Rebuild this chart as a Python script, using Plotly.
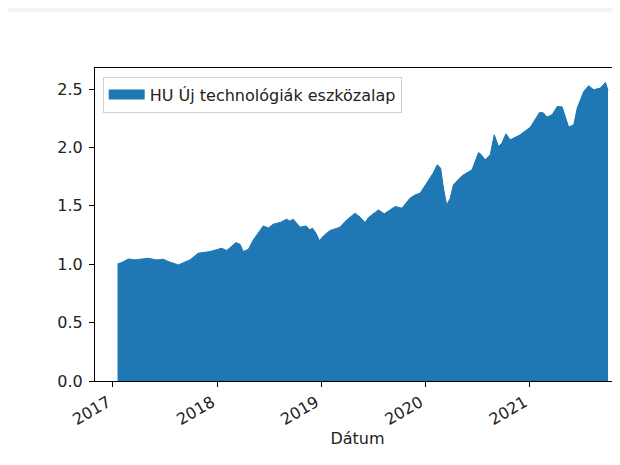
import plotly.graph_objects as go

series_name = "HU Új technológiák eszközalap"
dates = [
    "2017-01-17", "2017-02-01", "2017-02-24", "2017-03-19", "2017-05-05", "2017-06-03",
    "2017-06-27", "2017-07-14", "2017-08-18", "2017-09-28", "2017-10-27", "2017-12-07",
    "2018-01-17", "2018-02-04", "2018-03-08", "2018-03-23", "2018-04-03", "2018-04-21",
    "2018-05-08", "2018-06-12", "2018-06-30", "2018-07-17", "2018-08-10", "2018-09-02",
    "2018-09-13", "2018-09-25", "2018-10-19", "2018-11-09", "2018-11-23", "2018-12-01",
    "2018-12-14", "2018-12-26", "2019-01-09", "2019-02-01", "2019-03-08", "2019-04-01",
    "2019-04-30", "2019-05-18", "2019-06-04", "2019-06-16", "2019-07-21", "2019-08-10",
    "2019-09-18", "2019-10-11", "2019-11-09", "2019-11-27", "2019-12-14", "2020-01-12",
    "2020-01-29", "2020-02-12", "2020-02-24", "2020-03-05", "2020-03-16", "2020-03-28",
    "2020-04-09", "2020-05-09", "2020-06-13", "2020-07-06", "2020-07-15", "2020-07-29",
    "2020-08-16", "2020-08-30", "2020-09-14", "2020-09-26", "2020-10-10", "2020-10-25",
    "2020-11-29", "2021-01-04", "2021-02-05", "2021-02-18", "2021-03-03", "2021-03-21",
    "2021-04-08", "2021-04-25", "2021-05-07", "2021-05-18", "2021-06-05", "2021-06-17",
    "2021-07-10", "2021-07-27", "2021-08-14", "2021-09-06", "2021-09-24", "2021-10-03",
]
values = [
    1.003, 1.014, 1.045, 1.037, 1.051, 1.037,
    1.043, 1.023, 0.994, 1.037, 1.094, 1.108,
    1.137, 1.117, 1.185, 1.170, 1.108, 1.128,
    1.208, 1.328, 1.310, 1.343, 1.357, 1.385,
    1.370, 1.385, 1.317, 1.328, 1.294, 1.310,
    1.265, 1.202, 1.242, 1.288, 1.317, 1.380,
    1.437, 1.402, 1.357, 1.400, 1.465, 1.431,
    1.494, 1.480, 1.566, 1.594, 1.608, 1.722,
    1.780, 1.851, 1.823, 1.651, 1.508, 1.560,
    1.680, 1.757, 1.808, 1.956, 1.940, 1.894,
    1.937, 2.108, 2.008, 2.037, 2.117, 2.065,
    2.108, 2.174, 2.300, 2.296, 2.260, 2.280,
    2.350, 2.347, 2.265, 2.174, 2.194, 2.337,
    2.480, 2.528, 2.494, 2.508, 2.556, 2.488,
]
x_tick_vals = ["2017-01-01", "2018-01-01", "2019-01-01", "2020-01-01", "2021-01-01"]
x_tick_text = ["2017", "2018", "2019", "2020", "2021"]
y_tick_vals = [0.0, 0.5, 1.0, 1.5, 2.0, 2.5]
y_tick_text = ["0.0", "0.5", "1.0", "1.5", "2.0", "2.5"]
x_title = "Dátum"

# page body has an 8px margin, figure placed at (8, 8)
W, H = 612, 449
L, R, T, B = 87, 0, 60, 76
pw, ph = W - L - R, H - T - B
C0 = "#1f77b4"

fig = go.Figure()
fig.add_trace(go.Scatter(
    x=dates, y=values, name=series_name, mode="lines",
    fill="tozeroy", fillcolor=C0,
    line=dict(color=C0, width=1),
    showlegend=False,
))
# legend entry drawn as a filled patch
fig.add_trace(go.Scatter(
    x=[None], y=[None], name=series_name, mode="lines",
    line=dict(color=C0, width=12.5), showlegend=True,
))

font = dict(family="DejaVu Sans", size=16, color="#222222")

fig.update_layout(
    width=W, height=H,
    margin=dict(l=L, r=R, t=T, b=B, pad=0),
    paper_bgcolor="#f4f4f4",
    plot_bgcolor="#ffffff",
    font=font,
    showlegend=True,
    legend=dict(
        x=(94.7 - L) / pw, y=(H - B - 68.7) / ph, xanchor="left", yanchor="top",
        bgcolor="rgba(255,255,255,0.8)", bordercolor="#d0d0d0", borderwidth=1,
        font=font, itemwidth=36,
    ),
    shapes=[dict(
        type="rect", xref="paper", yref="paper", layer="below",
        x0=(0 - L) / pw, x1=1.05, y0=-0.5, y1=(H - B - 4) / ph,
        fillcolor="#ffffff", line=dict(width=0),
    )],
    xaxis=dict(
        type="date", range=["2016-10-30", "2021-11-14"],
        tickvals=x_tick_vals, ticktext=x_tick_text, tickangle=-30,
        ticks="outside", ticklen=5, tickwidth=1, tickcolor="#000",
        showline=True, linecolor="#000", linewidth=1, mirror=True,
        showgrid=False, zeroline=False,
        ticklabelshift=-5,
        title=dict(text=x_title, font=font, standoff=4),
        tickfont=font,
    ),
    yaxis=dict(
        range=[0, 2.68], tickvals=y_tick_vals, ticktext=y_tick_text,
        ticks="outside", ticklen=5, tickwidth=1, tickcolor="#000",
        showline=True, linecolor="#000", linewidth=1, mirror=False,
        showgrid=False, zeroline=False, tickfont=font,
        ticklabelstandoff=3,
    ),
)

fig.write_html("out.html")
